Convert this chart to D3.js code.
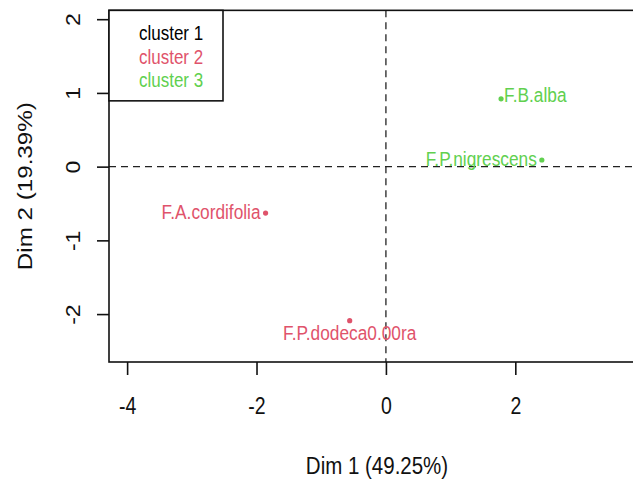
<!DOCTYPE html>
<html><head><meta charset="utf-8">
<script src="https://cdn.jsdelivr.net/npm/d3@7"></script>
<style>body{margin:0;background:#fff}svg{display:block}text{font-family:"Liberation Sans",Arial,sans-serif}</style>
</head><body>
<script>
const names = ["F.B.alba","F.P.nigrescens","F.A.cordifolia","F.P.dodeca0.00ra"];
const dim1 = [1.78, 2.41, -1.86, -0.56];
const dim2 = [0.92, 0.09, -0.63, -2.09];
const cluster = [3, 3, 2, 2];
const labelPos = ["right","left","left","below"];
const xTicks = [-4, -2, 0, 2];
const yTicks = [-2, -1, 0, 1, 2];
const legendLabels = ["cluster 1","cluster 2","cluster 3"];
const clusterColors = ["#000000","#DF536B","#61D04F"];
const xTitle = "Dim 1 (49.25%)";
const yTitle = "Dim 2 (19.39%)";

(function(){
const W = 633, H = 479, K = 1.18; // vertical stretch of glyphs
const svg = d3.select("body").append("svg").attr("width", W).attr("height", H);
const x = d3.scaleLinear().domain([-4.28, 3.97]).range([109, 109 + 64.7 * 8.25]);
const y = d3.scaleLinear().domain([-2.65, 2.12]).range([362, 10.35]);
const pl = x.range()[0], pr = x.range()[1], pt = y.range()[1], pb = y.range()[0];
const fmt = d => d < 0 ? "-" + Math.abs(d) : String(d);

// dashed zero lines
svg.append("line").attr("x1", pl).attr("x2", pr).attr("y1", y(0)).attr("y2", y(0))
  .attr("stroke", "#222").attr("stroke-width", 1.3).attr("stroke-dasharray", "7,5");
svg.append("line").attr("x1", x(0)).attr("x2", x(0)).attr("y1", pt).attr("y2", pb)
  .attr("stroke", "#222").attr("stroke-width", 1.3).attr("stroke-dasharray", "7,5");

// box
svg.append("rect").attr("x", pl).attr("y", pt).attr("width", pr - pl).attr("height", pb - pt)
  .attr("fill", "none").attr("stroke", "#111").attr("stroke-width", 1.6);

// x axis
const xAxis = d3.axisBottom(x).tickValues(xTicks).tickSize(13).tickFormat(fmt);
const gx = svg.append("g").attr("transform", `translate(0,${pb})`).call(xAxis);
gx.select(".domain").remove();
gx.selectAll(".tick line").attr("stroke", "#111").attr("stroke-width", 1.6);
gx.selectAll(".tick text").attr("font-size", 19.5).attr("fill", "#111")
  .attr("y", null).attr("dy", "0.35em")
  .attr("transform", `translate(0,44) scale(1,${K})`);

// y axis
const yAxis = d3.axisLeft(y).tickValues(yTicks).tickSize(12).tickFormat(fmt);
const gy = svg.append("g").attr("transform", `translate(${pl},0)`).call(yAxis);
gy.select(".domain").remove();
gy.selectAll(".tick line").attr("stroke", "#111").attr("stroke-width", 1.6);
gy.selectAll(".tick text").attr("font-size", 19.5).attr("fill", "#111")
  .attr("x", null).attr("dy", null).attr("text-anchor", "middle")
  .attr("transform", `translate(-29,0) rotate(-90) scale(${K},1)`);

// titles
svg.append("text").attr("transform", `translate(${(pl + 645) / 2},474) scale(1,${K})`).attr("text-anchor", "middle")
  .attr("font-size", 20.5).attr("fill", "#111").text(xTitle);
svg.append("text").attr("transform", `translate(32,${(pt + pb) / 2}) rotate(-90) scale(${K},1)`).attr("text-anchor", "middle")
  .attr("font-size", 20.5).attr("fill", "#111").text(yTitle);

// points
const pts = names.map((n, i) => ({name: n, x: dim1[i], y: dim2[i], c: cluster[i], pos: labelPos[i]}));
svg.selectAll("circle.pt").data(pts).join("circle").attr("class", "pt")
  .attr("cx", d => x(d.x)).attr("cy", d => y(d.y)).attr("r", 2.6)
  .attr("fill", d => clusterColors[d.c - 1]);
const dx = {right: 3, left: -5, below: 0}, dyo = {right: -4, left: -1, below: 12};
svg.selectAll("text.lab").data(pts).join("text").attr("class", "lab")
  .attr("font-size", 17.3).attr("fill", d => clusterColors[d.c - 1])
  .attr("transform", d => `translate(${x(d.x) + dx[d.pos]},${y(d.y) + dyo[d.pos]}) scale(1,${K})`)
  .attr("text-anchor", d => d.pos === "right" ? "start" : d.pos === "left" ? "end" : "middle")
  .attr("dy", "0.35em")
  .text(d => d.name);

// legend
const lg = svg.append("g");
lg.append("rect").attr("x", 109).attr("y", 10.35).attr("width", 114).attr("height", 90.5)
  .attr("fill", "#fff").attr("stroke", "#111").attr("stroke-width", 1.6);
lg.selectAll("text").data(legendLabels).join("text")
  .attr("transform", (d, i) => `translate(139,${33 + i * 23.5}) scale(1,${K})`).attr("dy", "0.35em")
  .attr("font-size", 17).attr("fill", (d, i) => clusterColors[i]).text(d => d);
})();
</script>
</body></html>
